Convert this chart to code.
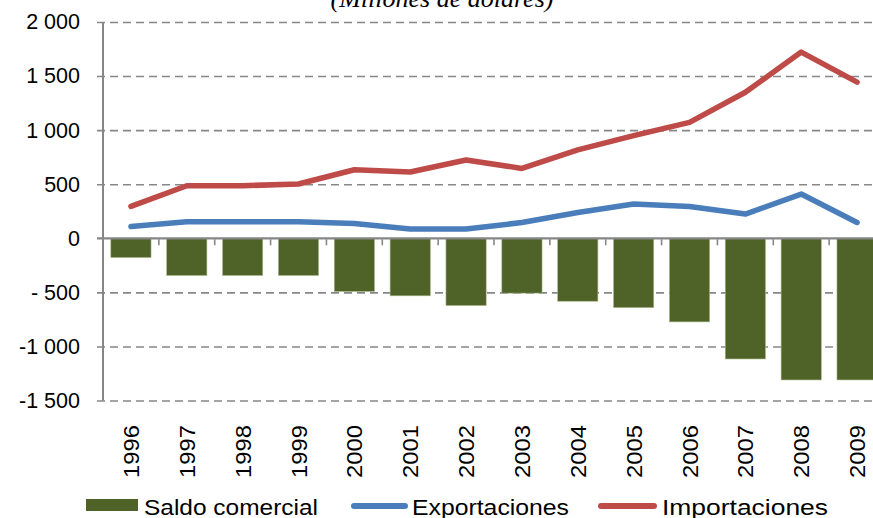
<!DOCTYPE html>
<html>
<head>
<meta charset="utf-8">
<script src="https://cdn.jsdelivr.net/npm/d3@7"></script>
<style>
  body { margin: 0; background: #fff; }
  svg { display: block; }
</style>
</head>
<body>
<div id="chart"></div>
<script>
// data
let years = ['1996', '1997', '1998', '1999', '2000', '2001', '2002', '2003', '2004', '2005', '2006', '2007', '2008', '2009']
let saldo = [-178, -344, -344, -344, -492, -532, -622, -507, -582, -641, -773, -1116, -1310, -1310]
let exportaciones = [109, 153, 153, 153, 137, 85, 85, 146, 239, 317, 294, 224, 409, 146]
let importaciones = [295, 486, 486, 502, 634, 613, 724, 646, 817, 949, 1072, 1350, 1722, 1444]
let yTicks = [2000, 1500, 1000, 500, 0, -500, -1000, -1500]
let yTickLabels = ['2 000', '1 500', '1 000', '500', '0', '- 500', '-1 000', '-1 500']
let legendLabels = ['Saldo comercial', 'Exportaciones', 'Importaciones']

let width = 873
let height = 518
let plot = { left: 103, right: 885, top: 22, bottom: 400.5 }

let svg = d3
  .select('#chart')
  .append('svg')
  .attr('width', width)
  .attr('height', height)
  .style('font-family', 'Liberation Sans, Arial, sans-serif')

let xPositionScale = d3
  .scaleBand()
  .domain(years)
  .range([plot.left, plot.right])
  .paddingInner(0.28)
  .paddingOuter(0.14)

let yPositionScale = d3
  .scaleLinear()
  .domain([-1500, 2000])
  .range([plot.bottom, plot.top])

// title, mostly cut off at the top
svg
  .append('text')
  .attr('x', 442)
  .attr('y', 7)
  .attr('text-anchor', 'middle')
  .attr('font-family', 'Liberation Serif, Times New Roman, serif')
  .attr('font-style', 'italic')
  .attr('font-size', 26)
  .text('(Millones de dólares)')

// y axis with dashed grid
let yAxis = d3
  .axisLeft(yPositionScale)
  .tickValues(yTicks)
  .tickFormat((d, i) => yTickLabels[i])
  .tickSize(-(plot.right - plot.left) - 6)
  .tickPadding(17)

svg
  .append('g')
  .attr('class', 'axis y-axis')
  .attr('transform', `translate(${plot.right},0)`)
  .call(yAxis)

svg.select('.y-axis .domain').remove()
svg
  .selectAll('.y-axis .tick line')
  .attr('x1', 0)
  .attr('x2', -(plot.right - plot.left) - 6)
  .attr('stroke', '#878787')
  .attr('stroke-width', 1.6)
  .attr('stroke-dasharray', '8 5')
svg
  .selectAll('.y-axis .tick text')
  .attr('x', -(plot.right - plot.left) - 23)
  .attr('font-size', 21.5)
  .attr('fill', '#000')
svg.selectAll('.y-axis .tick').filter(d => d === 0).select('line').remove()

// bars
svg
  .selectAll('.bar')
  .data(saldo)
  .enter()
  .append('rect')
  .attr('class', 'bar')
  .attr('x', (d, i) => xPositionScale(years[i]))
  .attr('width', xPositionScale.bandwidth())
  .attr('y', d => yPositionScale(Math.max(0, d)))
  .attr('height', d => Math.abs(yPositionScale(d) - yPositionScale(0)))
  .attr('fill', '#4f6228')
  .attr('stroke', '#a9b88a')
  .attr('stroke-width', 0.6)

// vertical axis line
svg
  .append('line')
  .attr('x1', plot.left)
  .attr('x2', plot.left)
  .attr('y1', yPositionScale(2000))
  .attr('y2', yPositionScale(-1500))
  .attr('stroke', '#868686')
  .attr('stroke-width', 2)

// category axis at zero
let xAxis = d3
  .axisBottom(xPositionScale)
  .tickSize(0)
  .tickFormat('')

let xAxisG = svg
  .append('g')
  .attr('class', 'axis x-axis')
  .attr('transform', `translate(0,${yPositionScale(0)})`)
  .call(xAxis)

xAxisG.select('.domain').remove()
xAxisG
  .append('line')
  .attr('x1', plot.left - 6)
  .attr('x2', plot.right)
  .attr('stroke', '#868686')
  .attr('stroke-width', 2.2)

// tick marks between categories
let boundaries = years.slice(1).map(y => xPositionScale(y) - (xPositionScale.step() - xPositionScale.bandwidth()) / 2)
xAxisG
  .selectAll('.sep')
  .data(boundaries)
  .enter()
  .append('line')
  .attr('class', 'sep')
  .attr('x1', d => d)
  .attr('x2', d => d)
  .attr('y1', 1)
  .attr('y2', 7)
  .attr('stroke', '#868686')
  .attr('stroke-width', 1.6)

// rotated year labels under the plot
svg
  .selectAll('.year-label')
  .data(years)
  .enter()
  .append('text')
  .attr('class', 'year-label')
  .attr('transform', d => `translate(${xPositionScale(d) + xPositionScale.bandwidth() / 2 + 8},478) rotate(-90)`)
  .attr('font-size', 22)
  .attr('textLength', 53)
  .attr('lengthAdjust', 'spacingAndGlyphs')
  .text(d => d)

// lines
let line = d3
  .line()
  .x((d, i) => xPositionScale(years[i]) + xPositionScale.bandwidth() / 2)
  .y(d => yPositionScale(d))

svg
  .append('path')
  .datum(exportaciones)
  .attr('d', line)
  .attr('fill', 'none')
  .attr('stroke', '#4a7ebb')
  .attr('stroke-width', 5.5)
  .attr('stroke-linecap', 'round')
  .attr('stroke-linejoin', 'round')

svg
  .append('path')
  .datum(importaciones)
  .attr('d', line)
  .attr('fill', 'none')
  .attr('stroke', '#be4b48')
  .attr('stroke-width', 5.5)
  .attr('stroke-linecap', 'round')
  .attr('stroke-linejoin', 'round')

// legend
let legend = svg.append('g').attr('class', 'legend')

legend
  .append('rect')
  .attr('x', 86)
  .attr('y', 499)
  .attr('width', 52)
  .attr('height', 12)
  .attr('fill', '#4f6228')

legend
  .append('line')
  .attr('x1', 354)
  .attr('x2', 405)
  .attr('y1', 506)
  .attr('y2', 506)
  .attr('stroke', '#4a7ebb')
  .attr('stroke-width', 6)
  .attr('stroke-linecap', 'round')

legend
  .append('line')
  .attr('x1', 601)
  .attr('x2', 654)
  .attr('y1', 506)
  .attr('y2', 506)
  .attr('stroke', '#be4b48')
  .attr('stroke-width', 6)
  .attr('stroke-linecap', 'round')

let legendX = [144, 412, 662]
let legendW = [174, 157, 166]
legend
  .selectAll('.legend-label')
  .data(legendLabels)
  .enter()
  .append('text')
  .attr('class', 'legend-label')
  .attr('x', (d, i) => legendX[i])
  .attr('y', 515)
  .attr('font-size', 22)
  .attr('textLength', (d, i) => legendW[i])
  .attr('lengthAdjust', 'spacingAndGlyphs')
  .text(d => d)
</script>
</body>
</html>
